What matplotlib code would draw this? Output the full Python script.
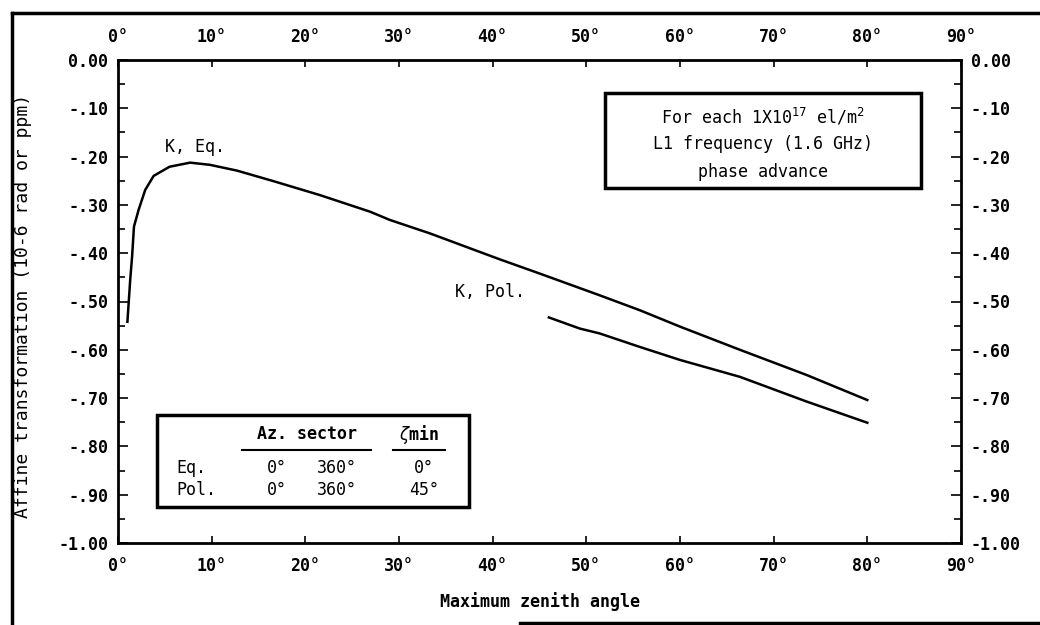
import matplotlib
matplotlib.use("Agg")
import matplotlib.pyplot as plt
from matplotlib.ticker import FixedLocator, FuncFormatter, MultipleLocator
from matplotlib.lines import Line2D

plt.rcParams['font.family'] = ['DejaVu Sans Mono', 'DejaVu Sans']
plt.rcParams['mathtext.fontset'] = 'dejavusans'

# zenith angle (deg) vs affine transformation, equatorial site
eq_angle = [1.0, 1.3, 1.5, 1.7, 2.2, 2.9, 3.8, 5.5, 7.7, 9.8, 12.7, 16.8, 21.6,
            26.9, 29.0, 33.3, 37.6, 40.8, 45.0, 51.4, 55.7, 60.0, 66.4, 73.5, 80.0]
eq_value = [-0.542, -0.455, -0.407, -0.345, -0.310, -0.269, -0.240, -0.221,
            -0.2125, -0.217, -0.229, -0.252, -0.280, -0.314, -0.331, -0.359,
            -0.390, -0.413, -0.442, -0.487, -0.518, -0.552, -0.600, -0.652, -0.704]

# polar site, zeta_min = 45 deg
pol_angle = [46.0, 49.3, 51.4, 55.7, 60.0, 66.4, 73.5, 80.0]
pol_value = [-0.533, -0.556, -0.566, -0.594, -0.621, -0.656, -0.707, -0.751]

x_ticks = [0, 10, 20, 30, 40, 50, 60, 70, 80, 90]
y_ticks = [0.0, -0.1, -0.2, -0.3, -0.4, -0.5, -0.6, -0.7, -0.8, -0.9, -1.0]

table_rows = [("Eq.", "0°", "360°", "0°"),
              ("Pol.", "0°", "360°", "45°")]

FS = 12


def y_label(v, pos):
    if abs(v) < 1e-9:
        return "0.00"
    if abs(v + 1) < 1e-9:
        return "-1.00"
    return "-.%02d" % round(-v * 100)


fig = plt.figure(figsize=(10.4, 6.25), dpi=100)
ax = fig.add_axes([0.1135, 0.1312, 0.8105, 0.7728])

ax.plot(eq_angle, eq_value, color='black', lw=1.8)
ax.plot(pol_angle, pol_value, color='black', lw=1.8)

ax.set_xlim(0, 90)
ax.set_ylim(-1.0, 0.0)

ax.xaxis.set_major_locator(FixedLocator(x_ticks))
ax.xaxis.set_major_formatter(FuncFormatter(lambda v, p: "%d°" % v))
ax.yaxis.set_major_locator(FixedLocator(y_ticks))
ax.yaxis.set_minor_locator(MultipleLocator(0.05))
ax.yaxis.set_major_formatter(FuncFormatter(y_label))

ax.tick_params(axis='x', which='major', direction='in', length=5, width=1.2,
               top=True, labeltop=True, labelsize=FS, pad=10)
ax.tick_params(axis='y', which='both', direction='in', width=1.2,
               right=True, labelright=True, labelsize=FS, pad=7)
ax.tick_params(axis='y', which='major', length=7)
ax.tick_params(axis='y', which='minor', length=5)
for lab in ax.get_xticklabels() + ax.get_yticklabels():
    lab.set_fontweight('bold')

for s in ax.spines.values():
    s.set_linewidth(2)

ax.set_xlabel("Maximum zenith angle", fontsize=FS, fontweight='bold', labelpad=12)
fig.text(0.022, 0.51, "Affine transformation (10-6 rad or ppm)", rotation=90,
         ha='center', va='center', fontsize=FS + 1)

# curve labels
ax.text(5.0, -0.18, "K, Eq.", fontsize=FS, ha='left', va='center')
ax.text(36.0, -0.48, "K, Pol.", fontsize=FS, ha='left', va='center')

# note box, upper right
fig.patches.append(plt.Rectangle((605 / 1040, 1 - 188 / 625), 316 / 1040, 95 / 625,
                                 transform=fig.transFigure, fill=False,
                                 lw=2.5, ec='black'))
note_x = 763 / 1040
fig.text(note_x, 1 - 117 / 625, r"For each 1X10$^{17}$ el/m$^2$",
         ha='center', va='center', fontsize=FS)
fig.text(note_x, 1 - 144 / 625, "L1 frequency (1.6 GHz)",
         ha='center', va='center', fontsize=FS)
fig.text(note_x, 1 - 172 / 625, "phase advance",
         ha='center', va='center', fontsize=FS)

# site table, lower left
fig.patches.append(plt.Rectangle((157 / 1040, 1 - 507 / 625), 312 / 1040, 92 / 625,
                                 transform=fig.transFigure, fill=False,
                                 lw=2.5, ec='black'))
fig.text(307 / 1040, 1 - 434 / 625, "Az. sector", ha='center', va='center',
         fontsize=FS, fontweight='bold')
fig.text(419 / 1040, 1 - 434 / 625, r"$\zeta$min", ha='center', va='center',
         fontsize=FS, fontweight='bold')
fig.lines.append(Line2D([242 / 1040, 371 / 1040], [1 - 450 / 625] * 2,
                        transform=fig.transFigure, color='black', lw=1.5))
fig.lines.append(Line2D([393 / 1040, 445 / 1040], [1 - 450 / 625] * 2,
                        transform=fig.transFigure, color='black', lw=1.5))
row_y = [468, 490]
for (name, az0, az1, zmin), yy in zip(table_rows, row_y):
    fy = 1 - yy / 625
    fig.text(176 / 1040, fy, name, ha='left', va='center', fontsize=FS)
    fig.text(277 / 1040, fy, az0, ha='center', va='center', fontsize=FS)
    fig.text(337 / 1040, fy, az1, ha='center', va='center', fontsize=FS)
    fig.text(424 / 1040, fy, zmin, ha='center', va='center', fontsize=FS)

# page frame
fig.lines.append(Line2D([12 / 1040, 12 / 1040], [0, 1 - 13 / 625],
                        transform=fig.transFigure, color='black', lw=2.5))
fig.lines.append(Line2D([12 / 1040, 1], [1 - 13 / 625] * 2,
                        transform=fig.transFigure, color='black', lw=2.5))
fig.lines.append(Line2D([520 / 1040, 1], [1 - 623 / 625] * 2,
                        transform=fig.transFigure, color='black', lw=2.5))

fig.savefig("out.png", dpi=100)
